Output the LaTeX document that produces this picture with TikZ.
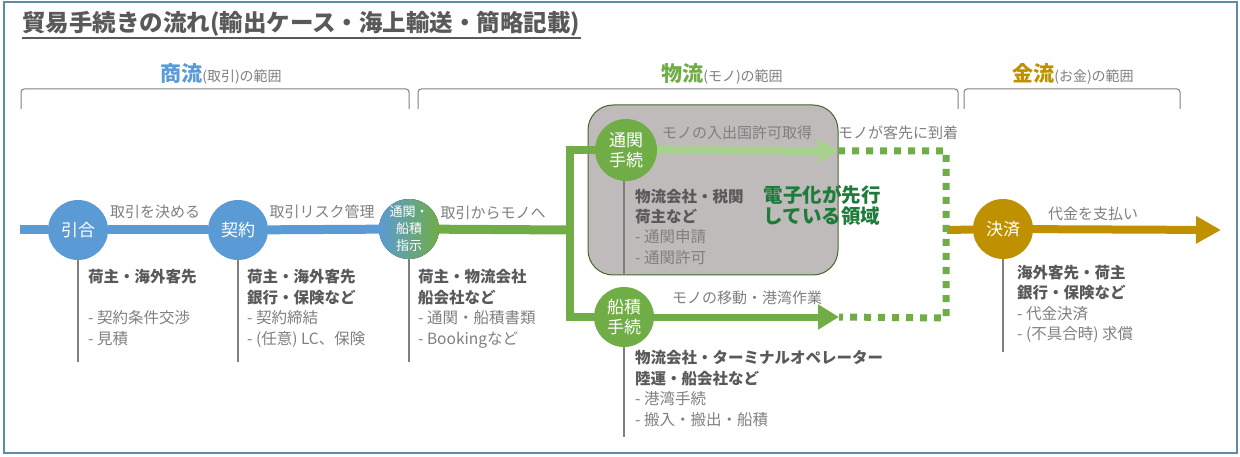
\documentclass[tikz,border=0pt]{standalone}
\usepackage{fontspec}
\setmainfont{Noto Sans CJK JP}
\usetikzlibrary{arrows.meta}
\definecolor{trade color}{HTML}{5B9BD5}
\definecolor{goods color}{HTML}{70AD47}
\definecolor{customs color}{HTML}{A9D18E}
\definecolor{money color}{HTML}{BF9000}
\definecolor{note color}{HTML}{7F7F7F}
\definecolor{party color}{HTML}{595959}
\definecolor{frame color}{HTML}{5B8EA6}
\definecolor{area color}{HTML}{BFBBBB}
\definecolor{area text color}{HTML}{1E7B3A}
\tikzset{
    x={1pt},
    y={-1pt},
    frame/.style={
        draw=frame color,
        line width={2pt},
    },
    range bracket/.style={
        draw=note color,
        line width={1pt},
        rounded corners={3pt},
    },
    range label/.style={
        text=note color,
        font={\fontsize{14}{14}\selectfont},
        inner sep=0pt,
    },
    stage/.style={
        circle, fill={#1},
        minimum size={60},
        inner sep=0pt,
        text=white,
        align=center,
        font={\fontsize{17}{20}\selectfont},
    },
    stem/.style={
        draw=note color,
        line width={2.5pt},
    },
    flow/.style={
        draw={#1},
        line width={9pt},
    },
    flow arrow/.style={
        draw={#1},
        line width={7pt},
        -{Triangle[length=21pt,width=24pt]},
    },
    arrival/.style={
        draw=goods color,
        line width={7pt},
        dash pattern=on 7pt off 7pt,
    },
    flow label/.style={
        text=note color,
        font={\fontsize{15}{15}\selectfont},
        inner sep=0pt,
    },
    parties/.style={
        anchor=north west,
        text=note color,
        align=left,
        inner sep=0pt,
        font={\fontsize{15.5}{20.7}\selectfont},
    },
    area/.style={
        fill=area color,
        draw=goods color!60!black,
        line width={1pt},
        rounded corners={25pt},
    },
}
\newcommand{\who}[1]{{\bfseries\color{party color}#1}}

\begin{document}
\begin{tikzpicture}
\useasboundingbox (0,0) rectangle (1240,457);
% frame and title
\path[frame] (4,2) rectangle (1237,453);
\node[anchor=base west, inner sep=0pt, text=party color, font={\fontsize{23.5}{23.5}\selectfont\bfseries}] (title) at (22,32) {貿易手続きの流れ(輸出ケース・海上輸送・簡略記載)};
\draw[party color, line width={1.6pt}] ([yshift=-6]title.base west) -- ([yshift=-6]title.base east);
% ranges
\node[range label] (trade range) at (221,74) {{\color{trade color}\fontsize{21}{21}\selectfont\bfseries 商流}(取引)の範囲};
\node[range label] (goods range) at (722,74) {{\color{goods color}\fontsize{21}{21}\selectfont\bfseries 物流}(モノ)の範囲};
\node[range label] (money range) at (1073,74) {{\color{money color}\fontsize{21}{21}\selectfont\bfseries 金流}(お金)の範囲};
\path[range bracket] (21,109) -- (21,89) -- (409,89) -- (409,109);
\path[range bracket] (418,109) -- (418,89) -- (958,89) -- (958,109);
\path[range bracket] (964,109) -- (964,89) -- (1180,89) -- (1180,109);
% area done electronically
\path[area] (588,105) rectangle (838,275);
\node[text=area text color, align=center, inner sep=0pt, font={\fontsize{19.5}{21}\selectfont\bfseries}] (digital) at (822,205) {電子化が先行\\している領域};
% stages
\node[stage={trade color}] (inquiry) at (78,230) {引合};
\node[stage={trade color}] (contract) at (238,230) {契約};
\node[stage, left color=trade color, right color=goods color, minimum size={56}, font={\fontsize{13}{17}\selectfont}] (order) at (409,229) {通関・\\船積\\指示};
\node[stage={goods color}, minimum size={62}] (customs) at (626,150) {通関\\手続};
\node[stage={goods color}] (loading) at (624,317) {船積\\手続};
\node[stage={money color}] (payment) at (1003,229) {決済};
\coordinate (trade start) at (20,230);
\coordinate (split) at (570,230);
\coordinate (customs end) at (838,151);
\coordinate (loading end) at (839,317);
\coordinate (arrival top) at (946,151);
\coordinate (arrival bottom) at (946,318);
\coordinate (money start) at (947,230);
\coordinate (money end) at (1221,230);
% flows
\path[flow={trade color}] (trade start) -- (inquiry);
\path[flow={trade color}] (inquiry) -- (contract);
\path[flow={trade color}] (contract) -- (order);
\path[flow={goods color}] (order) -- (split);
\path[flow={goods color}, line width={8pt}] (customs) -| (split) |- (loading);
\path[flow arrow={customs color}, line width={8pt}, -{Triangle[length=20pt,width=23pt]}] (customs) -- (customs end);
\path[flow arrow={goods color}] (loading) -- (loading end);
\path[flow={money color}, line width={8pt}] (money start) -- (payment);
\path[flow arrow={money color}, line width={8pt}, -{Triangle[length=25pt,width=26pt]}] (payment) -- (money end);
\path[arrival] (customs end) -- (arrival top) -- (arrival bottom) -- (loading end);
% flow labels
\node[flow label] (decide) at (155,212) {取引を決める};
\node[flow label] (risk) at (322,212) {取引リスク管理};
\node[flow label] (to goods) at (493,213) {取引からモノへ};
\node[flow label] (permit) at (737,133) {モノの入出国許可取得};
\node[flow label] (arrive) at (898,133) {モノが客先に到着};
\node[flow label] (move) at (747,298) {モノの移動・港湾作業};
\node[flow label] (pay) at (1093,214) {代金を支払い};
% stems
\coordinate (inquiry foot) at (78,362);
\coordinate (contract foot) at (238,362);
\coordinate (order foot) at (409,362);
\coordinate (customs foot) at (624,275);
\coordinate (loading foot) at (624,437);
\coordinate (payment foot) at (1003,352);
\path[stem] (inquiry) -- (inquiry foot);
\path[stem] (contract) -- (contract foot);
\path[stem] (order) -- (order foot);
\path[stem] (customs.south -| customs foot) -- (customs foot);
\path[stem] (loading.south -| loading foot) -- (loading foot);
\path[stem] (payment) -- (payment foot);
% parties
\node[parties] (inquiry parties) at (88,269) {\who{荷主・海外客先}\\[20.7pt]- 契約条件交渉\\- 見積};
\node[parties] (contract parties) at (247,269) {\who{荷主・海外客先}\\\who{銀行・保険など}\\- 契約締結\\- (任意) LC、保険};
\node[parties] (order parties) at (418,269) {\who{荷主・物流会社}\\\who{船会社など}\\- 通関・船積書類\\- Bookingなど};
\node[parties, font={\fontsize{15.5}{20.2}\selectfont}] (customs parties) at (635,189) {\who{物流会社・税関}\\\who{荷主など}\\- 通関申請\\- 通関許可};
\node[parties] (loading parties) at (635,350) {\who{物流会社・ターミナルオペレーター}\\\who{陸運・船会社など}\\- 港湾手続\\- 搬入・搬出・船積};
\node[parties, font={\fontsize{15.5}{20.4}\selectfont}] (payment parties) at (1017,265) {\who{海外客先・荷主}\\\who{銀行・保険など}\\- 代金決済\\- (不具合時) 求償};
\end{tikzpicture}
\end{document}
